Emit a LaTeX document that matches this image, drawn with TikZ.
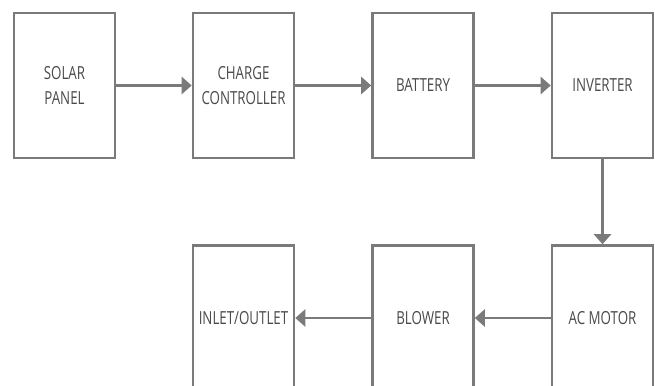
\documentclass[tikz,border=0pt]{standalone}
\usepackage{fontspec}
\setmainfont{Open Sans}[FakeStretch=0.74]
\usetikzlibrary{arrows.meta}
\definecolor{linegray}{HTML}{7A7A7A}
\definecolor{textgray}{HTML}{4A4A4A}
\tikzset{
  block/.style={draw=linegray, line width=2.6pt, fill=white, minimum width=101pt, minimum height=145pt,
    inner sep=0pt, align=center, text=textgray, font=\fontsize{18}{25}\selectfont},
  flow/.style={draw=linegray, line width=2.6pt, -{Triangle[length=10pt,width=17pt]}}
}
\begin{document}
\begin{tikzpicture}[x=1pt,y=-1pt]
\useasboundingbox (0,0) rectangle (655,385);
\clip (0,0) rectangle (655,385);
\fill[white] (0,0) rectangle (655,385);
\node[block] (solar) at (64.5,85.5) {SOLAR\\PANEL};
\node[block] (charge) at (243.5,85.5) {CHARGE\\CONTROLLER};
\node[block] (battery) at (423,85.5) {BATTERY};
\node[block] (inverter) at (602.5,85.5) {INVERTER};
\node[block] (motor) at (602.5,318) {AC MOTOR};
\node[block] (blower) at (423,318) {BLOWER};
\node[block] (inlet) at (243.5,318) {INLET/OUTLET};
\draw[flow] (solar) -- (charge);
\draw[flow] (charge) -- (battery);
\draw[flow] (battery) -- (inverter);
\draw[flow] (inverter) -- (motor);
\draw[flow] (motor) -- (blower);
\draw[flow] (blower) -- (inlet);
\end{tikzpicture}
\end{document}
